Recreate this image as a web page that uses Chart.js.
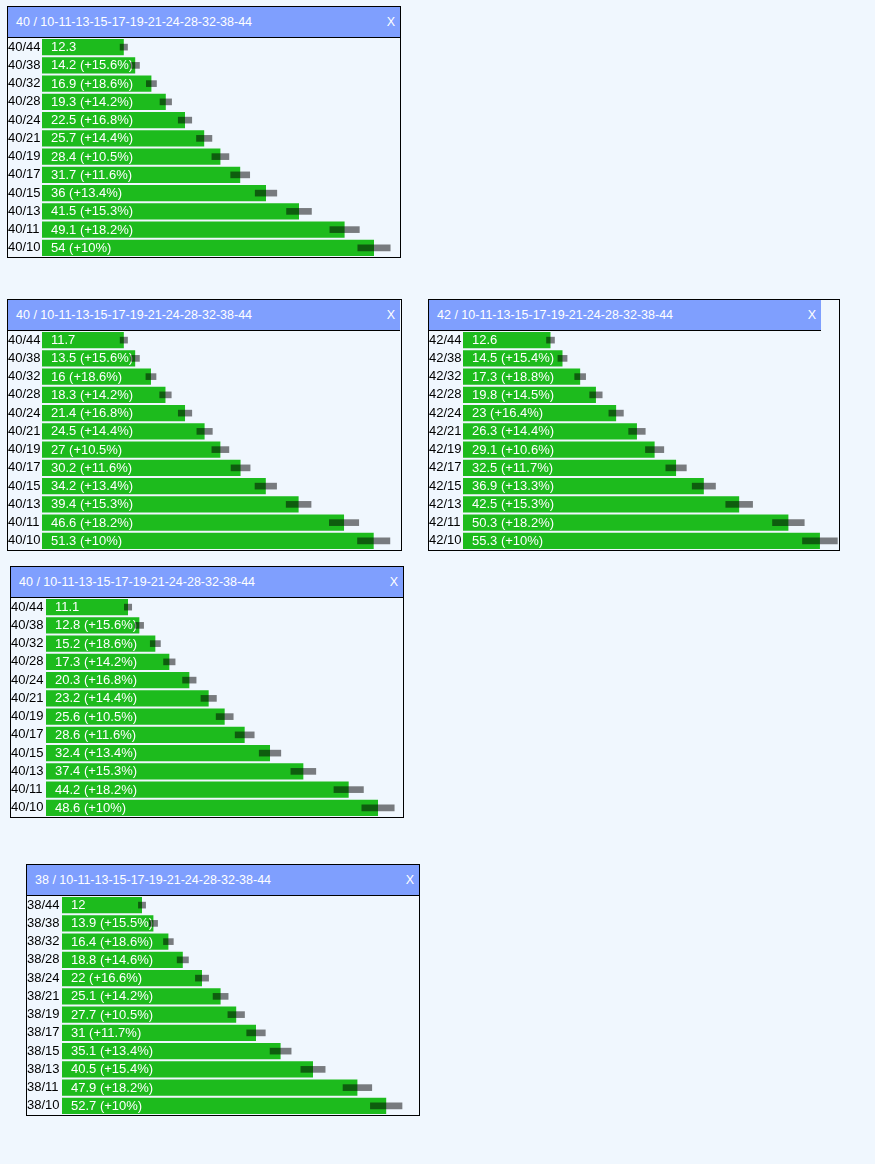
<!DOCTYPE html>
<html>
<head>
<meta charset="utf-8">
<script src="https://cdn.jsdelivr.net/npm/chart.js@4"></script>
<style>
html,body{margin:0;padding:0;background:#f0f7fe;}
body{width:875px;height:1164px;position:relative;overflow:hidden;font-family:"Liberation Sans",Arial,sans-serif;}
.panel{position:absolute;border:1px solid #000;background:#f0f7fe;box-sizing:border-box;height:252px;}
.hdr{height:31px;width:392px;background:#7f9ffe;border-bottom:1px solid #000;box-sizing:border-box;color:#fff;font-size:12.5px;position:relative;line-height:30px;}
.hdr .t{position:absolute;left:8px;top:0;}
.hdr .x{position:absolute;right:5px;top:0;}
.bd{position:relative;height:219px;}
canvas{display:block;}
</style>
</head>
<body>
<script>
// ---- data ----
const p1Title = '40 / 10-11-13-15-17-19-21-24-28-32-38-44';
const p1Labels = ['40/44','40/38','40/32','40/28','40/24','40/21','40/19','40/17','40/15','40/13','40/11','40/10'];
const p1Values = [12.3, 14.2, 16.9, 19.3, 22.5, 25.7, 28.4, 31.7, 36, 41.5, 49.1, 54];
const p1Pct = [null, 15.6, 18.6, 14.2, 16.8, 14.4, 10.5, 11.6, 13.4, 15.3, 18.2, 10];

const p2Title = '40 / 10-11-13-15-17-19-21-24-28-32-38-44';
const p2Labels = ['40/44','40/38','40/32','40/28','40/24','40/21','40/19','40/17','40/15','40/13','40/11','40/10'];
const p2Values = [11.7, 13.5, 16, 18.3, 21.4, 24.5, 27, 30.2, 34.2, 39.4, 46.6, 51.3];
const p2Pct = [null, 15.6, 18.6, 14.2, 16.8, 14.4, 10.5, 11.6, 13.4, 15.3, 18.2, 10];

const p3Title = '42 / 10-11-13-15-17-19-21-24-28-32-38-44';
const p3Labels = ['42/44','42/38','42/32','42/28','42/24','42/21','42/19','42/17','42/15','42/13','42/11','42/10'];
const p3Values = [12.6, 14.5, 17.3, 19.8, 23, 26.3, 29.1, 32.5, 36.9, 42.5, 50.3, 55.3];
const p3Pct = [null, 15.4, 18.8, 14.5, 16.4, 14.4, 10.6, 11.7, 13.3, 15.3, 18.2, 10];

const p4Title = '40 / 10-11-13-15-17-19-21-24-28-32-38-44';
const p4Labels = ['40/44','40/38','40/32','40/28','40/24','40/21','40/19','40/17','40/15','40/13','40/11','40/10'];
const p4Values = [11.1, 12.8, 15.2, 17.3, 20.3, 23.2, 25.6, 28.6, 32.4, 37.4, 44.2, 48.6];
const p4Pct = [null, 15.6, 18.6, 14.2, 16.8, 14.4, 10.5, 11.6, 13.4, 15.3, 18.2, 10];

const p5Title = '38 / 10-11-13-15-17-19-21-24-28-32-38-44';
const p5Labels = ['38/44','38/38','38/32','38/28','38/24','38/21','38/19','38/17','38/15','38/13','38/11','38/10'];
const p5Values = [12, 13.9, 16.4, 18.8, 22, 25.1, 27.7, 31, 35.1, 40.5, 47.9, 52.7];
const p5Pct = [null, 15.5, 18.6, 14.6, 16.6, 14.2, 10.5, 11.7, 13.4, 15.4, 18.2, 10];

const markerSpread = 0.05;

// ---- layout ----
const panels = [
  {title:p1Title, labels:p1Labels, values:p1Values, pct:p1Pct, left:7,   top:6,   width:394, labelW:34, pxPerUnit:6.0},
  {title:p2Title, labels:p2Labels, values:p2Values, pct:p2Pct, left:7,   top:299, width:395, labelW:34, pxPerUnit:6.31},
  {title:p3Title, labels:p3Labels, values:p3Values, pct:p3Pct, left:428, top:299, width:412, labelW:34, pxPerUnit:6.31},
  {title:p4Title, labels:p4Labels, values:p4Values, pct:p4Pct, left:10,  top:566, width:394, labelW:35, pxPerUnit:6.667},
  {title:p5Title, labels:p5Labels, values:p5Values, pct:p5Pct, left:26,  top:864, width:394, labelW:35, pxPerUnit:6.0}
];

const FONT = '"Liberation Sans", Arial, sans-serif';
const barPad = 8;

const valueLabels = {
  id: 'valueLabels',
  afterDatasetDraw(chart, args, opts) {
    if (args.index !== 0) return;
    const ctx = chart.ctx;
    ctx.save();
    ctx.font = '13px ' + FONT;
    ctx.fillStyle = '#ffffff';
    ctx.textBaseline = 'middle';
    ctx.textAlign = 'left';
    args.meta.data.forEach((bar, i) => {
      ctx.fillText(opts.texts[i], chart.chartArea.left + 9, bar.y + 0.5);
    });
    ctx.restore();
  }
};

panels.forEach(p => {
  const div = document.createElement('div');
  div.className = 'panel';
  div.style.left = p.left + 'px';
  div.style.top = p.top + 'px';
  div.style.width = p.width + 'px';
  const hdr = document.createElement('div');
  hdr.className = 'hdr';
  hdr.innerHTML = '<span class="t"></span><span class="x">X</span>';
  hdr.querySelector('.t').textContent = p.title;
  div.appendChild(hdr);
  const bd = document.createElement('div');
  bd.className = 'bd';
  const cw = p.width - 2;
  const canvas = document.createElement('canvas');
  canvas.width = cw; canvas.height = 219;
  canvas.style.width = cw + 'px'; canvas.style.height = '219px';
  bd.appendChild(canvas);
  div.appendChild(bd);
  document.body.appendChild(div);

  const areaW = cw - p.labelW;
  const xmin = -barPad / p.pxPerUnit;
  const xmax = (areaW - barPad) / p.pxPerUnit;
  const texts = p.values.map((v, i) => p.pct[i] == null ? String(v) : v + ' (+' + p.pct[i] + '%)');
  const markers = p.values.map(v => [v * (1 - markerSpread), v * (1 + markerSpread)]);

  new Chart(canvas, {
    type: 'bar',
    data: {
      labels: p.labels,
      datasets: [
        {data: p.values, base: xmin, backgroundColor: '#1dbb1d', borderWidth: 0,
         barPercentage: 0.88, categoryPercentage: 1, grouped: false, order: 2},
        {data: markers, backgroundColor: 'rgba(0,0,0,0.5)', borderWidth: 0,
         barThickness: 6, grouped: false, order: 1}
      ]
    },
    options: {
      indexAxis: 'y',
      responsive: false,
      animation: false,
      devicePixelRatio: 1,
      layout: {padding: 0},
      plugins: {legend: {display: false}, tooltip: {enabled: false}, valueLabels: {texts}},
      scales: {
        x: {display: false, min: xmin, max: xmax},
        y: {
          position: 'left',
          grid: {display: false, drawTicks: false},
          border: {display: false},
          ticks: {color: '#000', font: {size: 13, family: FONT}, padding: 0, crossAlign: 'far', autoSkip: false},
          afterFit(s) {
            s.width = p.labelW;
            s.paddingTop = 0; s.paddingBottom = 0; s.paddingLeft = 0; s.paddingRight = 0;
            s.getPadding = () => ({left: 0, top: 0, right: 0, bottom: 0});
          }
        }
      }
    },
    plugins: [valueLabels]
  });
});
</script>
</body>
</html>
